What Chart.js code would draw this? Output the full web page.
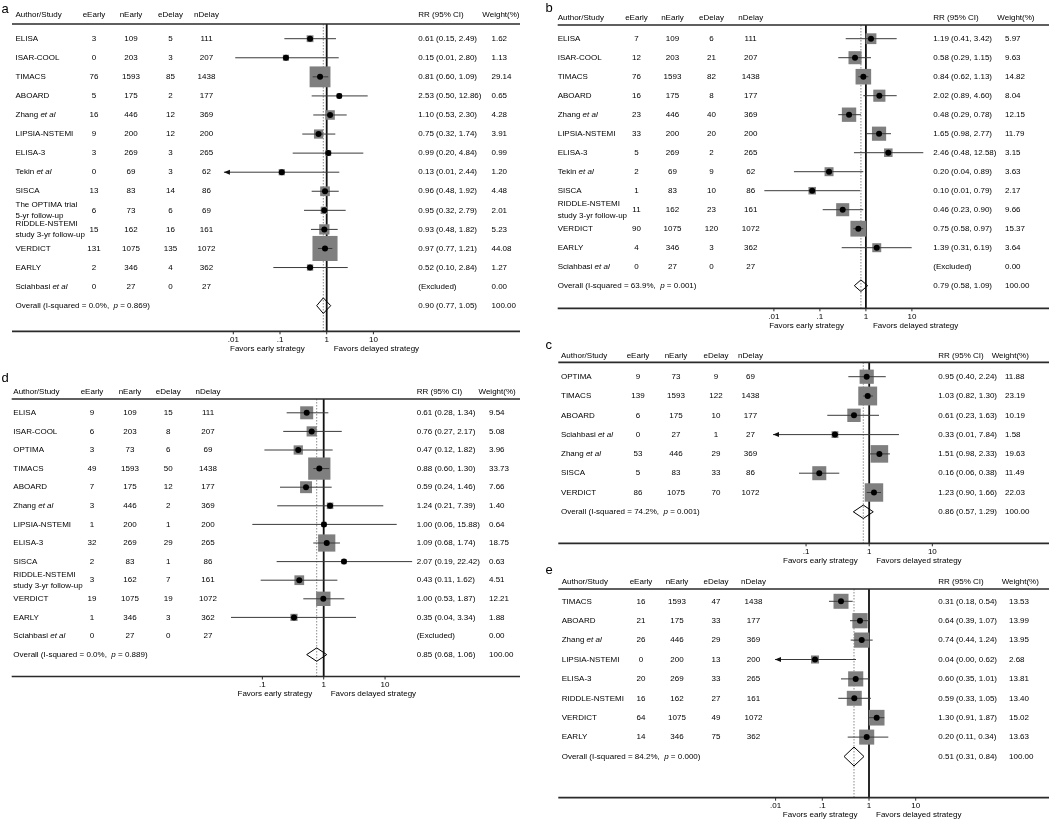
<!DOCTYPE html>
<html>
<head>
<meta charset="utf-8">
<title>Early vs delayed strategy - forest plots</title>
<script src="https://cdn.jsdelivr.net/npm/chart.js@4.4.1/dist/chart.umd.min.js"></script>
<style>
  body { margin: 0; background: #fff; }
  #page { position: relative; width: 1049px; height: 823px; overflow: hidden; }
  .panel { position: absolute; }
</style>
</head>
<body>
<div id="page"></div>
<script>
// ---------- panel a ----------
const aStudy = ['ELISA', 'ISAR-COOL', 'TIMACS', 'ABOARD', 'Zhang _et al_', 'LIPSIA-NSTEMI', 'ELISA-3', 'Tekin _et al_', 'SISCA',
    'The OPTIMA trial\n5-yr follow-up', 'RIDDLE-NSTEMI\nstudy 3-yr follow-up', 'VERDICT', 'EARLY', 'Sciahbasi _et al_'];
const aEEarly = [3, 0, 76, 5, 16, 9, 3, 0, 13, 6, 15, 131, 2, 0];
const aNEarly = [109, 203, 1593, 175, 446, 200, 269, 69, 83, 73, 162, 1075, 346, 27];
const aEDelay = [5, 3, 85, 2, 12, 12, 3, 3, 14, 6, 16, 135, 4, 0];
const aNDelay = [111, 207, 1438, 177, 369, 200, 265, 62, 86, 69, 161, 1072, 362, 27];
const aCI = ['0.61 (0.15, 2.49)', '0.15 (0.01, 2.80)', '0.81 (0.60, 1.09)', '2.53 (0.50, 12.86)', '1.10 (0.53, 2.30)',
    '0.75 (0.32, 1.74)', '0.99 (0.20, 4.84)', '0.13 (0.01, 2.44)', '0.96 (0.48, 1.92)', '0.95 (0.32, 2.79)',
    '0.93 (0.48, 1.82)', '0.97 (0.77, 1.21)', '0.52 (0.10, 2.84)', '(Excluded)'];
const aWeight = [1.62, 1.13, 29.14, 0.65, 4.28, 3.91, 0.99, 1.20, 4.48, 2.01, 5.23, 44.08, 1.27, 0.00];
// where the marks sit on the drawn scale
const aEst = [0.44, 0.134, 0.72, 1.86, 1.18, 0.67, 1.08, 0.109, 0.92, 0.89, 0.89, 0.92, 0.44, null];
const aLow = [0.124, 0.011, 0.50, 0.477, 0.516, 0.30, 0.187, 0.005, 0.477, 0.327, 0.46, 0.65, 0.072, null];
const aHigh = [1.58, 1.81, 1.08, 7.55, 2.68, 1.53, 6.08, 1.86, 1.81, 2.55, 1.72, 1.32, 2.82, null];
const aI2 = '0.0%', aP = '0.869', aPooledCI = '0.90 (0.77, 1.05)';
const aPooled = [0.846, 0.61, 1.22];
const aTicks = [0.01, 0.1, 1, 10];

// ---------- panel b ----------
const bStudy = ['ELISA', 'ISAR-COOL', 'TIMACS', 'ABOARD', 'Zhang _et al_', 'LIPSIA-NSTEMI', 'ELISA-3', 'Tekin _et al_', 'SISCA',
    'RIDDLE-NSTEMI\nstudy 3-yr follow-up', 'VERDICT', 'EARLY', 'Sciahbasi _et al_'];
const bEEarly = [7, 12, 76, 16, 23, 33, 5, 2, 1, 11, 90, 4, 0];
const bNEarly = [109, 203, 1593, 175, 446, 200, 269, 69, 83, 162, 1075, 346, 27];
const bEDelay = [6, 21, 82, 8, 40, 20, 2, 9, 10, 23, 120, 3, 0];
const bNDelay = [111, 207, 1438, 177, 369, 200, 265, 62, 86, 161, 1072, 362, 27];
const bCI = ['1.19 (0.41, 3.42)', '0.58 (0.29, 1.15)', '0.84 (0.62, 1.13)', '2.02 (0.89, 4.60)', '0.48 (0.29, 0.78)',
    '1.65 (0.98, 2.77)', '2.46 (0.48, 12.58)', '0.20 (0.04, 0.89)', '0.10 (0.01, 0.79)', '0.46 (0.23, 0.90)',
    '0.75 (0.58, 0.97)', '1.39 (0.31, 6.19)', '(Excluded)'];
const bWeight = [5.97, 9.63, 14.82, 8.04, 12.15, 11.79, 3.15, 3.63, 2.17, 9.66, 15.37, 3.64, 0.00];
const bEst = [1.29, 0.58, 0.88, 1.96, 0.43, 1.93, 3.07, 0.158, 0.068, 0.313, 0.684, 1.72, null];
const bLow = [0.364, 0.251, 0.684, 0.878, 0.251, 1.04, 0.55, 0.0273, 0.0062, 0.115, 0.532, 0.298, null];
const bHigh = [4.67, 1.29, 1.13, 4.67, 0.78, 3.51, 17.7, 0.878, 0.745, 0.878, 0.878, 9.9, null];
const bI2 = '63.9%', bP = '0.001', bPooledCI = '0.79 (0.58, 1.09)';
const bPooled = [0.78, 0.56, 1.09];
const bTicks = [0.01, 0.1, 1, 10];

// ---------- panel c ----------
const cStudy = ['OPTIMA', 'TIMACS', 'ABOARD', 'Sciahbasi _et al_', 'Zhang _et al_', 'SISCA', 'VERDICT'];
const cEEarly = [9, 139, 6, 0, 53, 5, 86];
const cNEarly = [73, 1593, 175, 27, 446, 83, 1075];
const cEDelay = [9, 122, 10, 1, 29, 33, 70];
const cNDelay = [69, 1438, 177, 27, 369, 86, 1072];
const cCI = ['0.95 (0.40, 2.24)', '1.03 (0.82, 1.30)', '0.61 (0.23, 1.63)', '0.33 (0.01, 7.84)', '1.51 (0.98, 2.33)',
    '0.16 (0.06, 0.38)', '1.23 (0.90, 1.66)'];
const cWeight = [11.88, 23.19, 10.19, 1.58, 19.63, 11.49, 22.03];
const cEst = [0.913, 0.947, 0.574, 0.287, 1.45, 0.162, 1.19];
const cLow = [0.467, 0.806, 0.217, 0.01, 1.0, 0.0773, 0.913];
const cHigh = [1.83, 1.14, 1.43, 2.96, 2.13, 0.336, 1.54];
const cI2 = '74.2%', cP = '0.001', cPooledCI = '0.86 (0.57, 1.29)';
const cPooled = [0.806, 0.56, 1.16];
const cTicks = [0.1, 1, 10];

// ---------- panel d ----------
const dStudy = ['ELISA', 'ISAR-COOL', 'OPTIMA', 'TIMACS', 'ABOARD', 'Zhang _et al_', 'LIPSIA-NSTEMI', 'ELISA-3', 'SISCA',
    'RIDDLE-NSTEMI\nstudy 3-yr follow-up', 'VERDICT', 'EARLY', 'Sciahbasi _et al_'];
const dEEarly = [9, 6, 3, 49, 7, 3, 1, 32, 2, 3, 19, 1, 0];
const dNEarly = [109, 203, 73, 1593, 175, 446, 200, 269, 83, 162, 1075, 346, 27];
const dEDelay = [15, 8, 6, 50, 12, 2, 1, 29, 1, 7, 19, 3, 0];
const dNDelay = [111, 207, 69, 1438, 177, 369, 200, 265, 86, 161, 1072, 362, 27];
const dCI = ['0.61 (0.28, 1.34)', '0.76 (0.27, 2.17)', '0.47 (0.12, 1.82)', '0.88 (0.60, 1.30)', '0.59 (0.24, 1.46)',
    '1.24 (0.21, 7.39)', '1.00 (0.06, 15.88)', '1.09 (0.68, 1.74)', '2.07 (0.19, 22.42)', '0.43 (0.11, 1.62)',
    '1.00 (0.53, 1.87)', '0.35 (0.04, 3.34)', '(Excluded)'];
const dWeight = [9.54, 5.08, 3.96, 33.73, 7.66, 1.40, 0.64, 18.75, 0.63, 4.51, 12.21, 1.88, 0.00];
const dEst = [0.528, 0.637, 0.385, 0.848, 0.515, 1.27, 1.01, 1.12, 2.14, 0.40, 0.985, 0.328, null];
const dLow = [0.249, 0.219, 0.108, 0.676, 0.194, 0.175, 0.0686, 0.676, 0.171, 0.094, 0.465, 0.0308, null];
const dHigh = [1.19, 1.97, 1.40, 1.23, 1.35, 9.36, 15.5, 1.84, 27.8, 1.67, 2.17, 3.36, null];
const dI2 = '0.0%', dP = '0.889', dPooledCI = '0.85 (0.68, 1.06)';
const dPooled = [0.769, 0.528, 1.12];
const dTicks = [0.1, 1, 10];

// ---------- panel e ----------
const eStudy = ['TIMACS', 'ABOARD', 'Zhang _et al_', 'LIPSIA-NSTEMI', 'ELISA-3', 'RIDDLE-NSTEMI', 'VERDICT', 'EARLY'];
const eEEarly = [16, 21, 26, 0, 20, 16, 64, 14];
const eNEarly = [1593, 175, 446, 200, 269, 162, 1075, 346];
const eEDelay = [47, 33, 29, 13, 33, 27, 49, 75];
const eNDelay = [1438, 177, 369, 200, 265, 161, 1072, 362];
const eCI = ['0.31 (0.18, 0.54)', '0.64 (0.39, 1.07)', '0.74 (0.44, 1.24)', '0.04 (0.00, 0.62)', '0.60 (0.35, 1.01)',
    '0.59 (0.33, 1.05)', '1.30 (0.91, 1.87)', '0.20 (0.11, 0.34)'];
const eWeight = [13.53, 13.99, 13.95, 2.68, 13.81, 13.40, 15.02, 13.63];
const eEst = [0.2515, 0.641, 0.698, 0.0698, 0.519, 0.484, 1.46, 0.893];
const eLow = [0.139, 0.392, 0.406, 0.001, 0.2515, 0.220, 1.0, 0.35];
const eHigh = [0.448, 1.05, 1.20, 0.527, 1.015, 1.10, 2.13, 2.59];
const eI2 = '84.2%', eP = '0.000', ePooledCI = '0.51 (0.31, 0.84)';
const ePooled = [0.477, 0.292, 0.781];
const eTicks = [0.01, 0.1, 1, 10];

const POOLED_WEIGHT = 100;

// ---------- layout (page pixels) ----------
const aLayout = { box: [0, 0, 524, 365], letter: [5, 9], headerY: 14.5, lineY: 24, lineX: [12, 520], row0: 38.7, rowH: 19.07, axisY: 331.3,
    cols: { study: 15.5, eEarly: 94, nEarly: 131, eDelay: 170.5, nDelay: 206.5, ci: 418.3, weight: 491.5, weightHead: 482.3 },
    one: 326.7, dec: 46.7, xMin: 0.0063, xMax: 30, favorsGap: 22, diamondHalf: 7.8 };
const bLayout = { box: [524, 0, 525, 345], letter: [549, 8], headerY: 18, lineY: 25, lineX: [557.7, 1049], row0: 38.7, rowH: 19.0, axisY: 308.3,
    cols: { study: 557.7, eEarly: 636.5, nEarly: 672.5, eDelay: 711.5, nDelay: 750.7, ci: 933.3, weight: 1005, weightHead: 997.3 },
    one: 865.9, dec: 46, xMin: 0.006, xMax: 20, favorsGap: 22, diamondHalf: 5.8 };
const cLayout = { box: [524, 330, 525, 240], letter: [549, 345.5], headerY: 355.5, lineY: 362.3, lineX: [558.3, 1049], row0: 376.7, rowH: 19.3, axisY: 543.3,
    cols: { study: 561, eEarly: 638, nEarly: 676, eDelay: 716, nDelay: 750.5, ci: 938.3, weight: 1005, weightHead: 991.7 },
    one: 869.2, dec: 63.15, xMin: 0.03, xMax: 10, favorsGap: 11.5, diamondHalf: 6.7 };
const dLayout = { box: [0, 365, 524, 458], letter: [5, 378], headerY: 391.5, lineY: 399, lineX: [11.7, 520], row0: 412.8, rowH: 18.6, axisY: 676.5,
    cols: { study: 13.3, eEarly: 92, nEarly: 130, eDelay: 168.3, nDelay: 208, ci: 416.7, weight: 489, weightHead: 478.5 },
    one: 323.7, dec: 61.35, xMin: 0.03, xMax: 28, favorsGap: 11.5, diamondHalf: 6.7 };
const eLayout = { box: [524, 563, 525, 260], letter: [549, 570.7], headerY: 582, lineY: 589, lineX: [558.3, 1049], row0: 601.3, rowH: 19.4, axisY: 797.7,
    cols: { study: 561.7, eEarly: 641, nEarly: 677, eDelay: 716, nDelay: 753.5, ci: 938.3, weight: 1009, weightHead: 1001.7 },
    one: 869, dec: 46.7, xMin: 0.0097, xMax: 20, favorsGap: 11.5, diamondHalf: 9.5 };

const panels = [
    { key: 'a', study: aStudy, eEarly: aEEarly, nEarly: aNEarly, eDelay: aEDelay, nDelay: aNDelay, ci: aCI, weight: aWeight,
      est: aEst, low: aLow, high: aHigh, i2: aI2, p: aP, pooledCI: aPooledCI, pooled: aPooled, ticks: aTicks, layout: aLayout },
    { key: 'b', study: bStudy, eEarly: bEEarly, nEarly: bNEarly, eDelay: bEDelay, nDelay: bNDelay, ci: bCI, weight: bWeight,
      est: bEst, low: bLow, high: bHigh, i2: bI2, p: bP, pooledCI: bPooledCI, pooled: bPooled, ticks: bTicks, layout: bLayout },
    { key: 'c', study: cStudy, eEarly: cEEarly, nEarly: cNEarly, eDelay: cEDelay, nDelay: cNDelay, ci: cCI, weight: cWeight,
      est: cEst, low: cLow, high: cHigh, i2: cI2, p: cP, pooledCI: cPooledCI, pooled: cPooled, ticks: cTicks, layout: cLayout },
    { key: 'd', study: dStudy, eEarly: dEEarly, nEarly: dNEarly, eDelay: dEDelay, nDelay: dNDelay, ci: dCI, weight: dWeight,
      est: dEst, low: dLow, high: dHigh, i2: dI2, p: dP, pooledCI: dPooledCI, pooled: dPooled, ticks: dTicks, layout: dLayout },
    { key: 'e', study: eStudy, eEarly: eEEarly, nEarly: eNEarly, eDelay: eEDelay, nDelay: eNDelay, ci: eCI, weight: eWeight,
      est: eEst, low: eLow, high: eHigh, i2: eI2, p: eP, pooledCI: ePooledCI, pooled: ePooled, ticks: eTicks, layout: eLayout },
];

const FONT = '"Liberation Sans", Arial, Helvetica, sans-serif';

// text with _italic_ parts (et al, p)
function richText(ctx, str, x, y, align) {
    const parts = str.split('_');
    const fonts = parts.map((s, k) => (k % 2 ? 'italic ' : '') + '8px ' + FONT);
    let w = 0;
    parts.forEach((s, k) => { ctx.font = fonts[k]; w += ctx.measureText(s).width; });
    let cx = align === 'center' ? x - w / 2 : align === 'right' ? x - w : x;
    ctx.textAlign = 'left';
    parts.forEach((s, k) => {
        ctx.font = fonts[k];
        ctx.fillText(s, cx, y);
        cx += ctx.measureText(s).width;
    });
}

function forestTable(p) {
    const L = p.layout;
    const X = v => v - L.box[0];
    const Y = v => v - L.box[1];
    const n = p.study.length;

    return {
        id: 'forestTable',

        beforeDatasetsDraw(chart) {
            const { ctx, chartArea: { top, bottom }, scales: { x } } = chart;
            ctx.save();
            // dotted line at the pooled estimate
            const xp = x.getPixelForValue(p.pooled[0]);
            ctx.strokeStyle = '#8a8a8a';
            ctx.lineWidth = 1;
            ctx.setLineDash([1.5, 1.5]);
            ctx.beginPath();
            ctx.moveTo(xp, top);
            ctx.lineTo(xp, bottom);
            ctx.stroke();
            // no effect line
            ctx.setLineDash([]);
            const x1 = x.getPixelForValue(1);
            ctx.strokeStyle = '#111';
            ctx.lineWidth = 1.8;
            ctx.beginPath();
            ctx.moveTo(x1, top);
            ctx.lineTo(x1, bottom);
            ctx.stroke();
            ctx.restore();
        },

        afterDatasetsDraw(chart) {
            // arrow head where the lower limit runs off the scale
            const { ctx, chartArea: { left }, scales: { y } } = chart;
            ctx.save();
            ctx.fillStyle = '#111';
            p.low.forEach((lo, i) => {
                if (lo === null || lo >= L.xMin) return;
                const yy = y.getPixelForValue(i);
                ctx.beginPath();
                ctx.moveTo(left, yy);
                ctx.lineTo(left + 6, yy - 2.5);
                ctx.lineTo(left + 6, yy + 2.5);
                ctx.closePath();
                ctx.fill();
            });
            ctx.restore();
        },

        afterDraw(chart) {
            const { ctx, scales: { x, y } } = chart;
            const c = L.cols;
            ctx.save();
            ctx.fillStyle = '#000';
            ctx.textBaseline = 'middle';

            ctx.font = '13px ' + FONT;
            ctx.textAlign = 'left';
            ctx.fillText(p.key, X(L.letter[0]) - 3.5, Y(L.letter[1]));

            const hy = Y(L.headerY);
            richText(ctx, 'Author/Study', X(c.study), hy, 'left');
            richText(ctx, 'eEarly', X(c.eEarly), hy, 'center');
            richText(ctx, 'nEarly', X(c.nEarly), hy, 'center');
            richText(ctx, 'eDelay', X(c.eDelay), hy, 'center');
            richText(ctx, 'nDelay', X(c.nDelay), hy, 'center');
            richText(ctx, 'RR (95% CI)', X(c.ci), hy, 'left');
            richText(ctx, 'Weight(%)', X(c.weightHead), hy, 'left');

            ctx.strokeStyle = '#2a2a2a';
            ctx.lineWidth = 1.7;
            [L.lineY, L.axisY].forEach(ly => {
                ctx.beginPath();
                ctx.moveTo(X(L.lineX[0]), Y(ly));
                ctx.lineTo(X(L.lineX[1]), Y(ly));
                ctx.stroke();
            });

            p.study.forEach((name, i) => {
                const yy = y.getPixelForValue(i);
                const lines = name.split('\n');
                lines.forEach((t, k) => richText(ctx, t, X(c.study), yy + (k - (lines.length - 1) / 2) * 11.5, 'left'));
                richText(ctx, String(p.eEarly[i]), X(c.eEarly), yy, 'center');
                richText(ctx, String(p.nEarly[i]), X(c.nEarly), yy, 'center');
                richText(ctx, String(p.eDelay[i]), X(c.eDelay), yy, 'center');
                richText(ctx, String(p.nDelay[i]), X(c.nDelay), yy, 'center');
                richText(ctx, p.ci[i], X(c.ci), yy, 'left');
                richText(ctx, p.weight[i].toFixed(2), X(c.weight), yy, 'left');
            });

            const yo = y.getPixelForValue(n);
            richText(ctx, `Overall (I-squared = ${p.i2},  _p_ = ${p.p})`, X(c.study), yo, 'left');
            richText(ctx, p.pooledCI, X(c.ci), yo, 'left');
            richText(ctx, POOLED_WEIGHT.toFixed(2), X(c.weight), yo, 'left');

            // log axis ticks
            const ay = Y(L.axisY);
            ctx.lineWidth = 1;
            p.ticks.forEach(t => {
                const tx = x.getPixelForValue(t);
                ctx.beginPath();
                ctx.moveTo(tx, ay);
                ctx.lineTo(tx, ay + 3);
                ctx.stroke();
                richText(ctx, t < 1 ? String(t).replace(/^0/, '') : String(t), tx, ay + 8.5, 'center');
            });
            const x1 = x.getPixelForValue(1);
            richText(ctx, 'Favors early strategy', x1 - L.favorsGap, ay + 17.5, 'right');
            richText(ctx, 'Favors delayed strategy', x1 + 7, ay + 17.5, 'left');
            ctx.restore();
        }
    };
}

function buildConfig(p) {
    const L = p.layout;
    const [bx, by, bw, bh] = L.box;
    const n = p.study.length;
    const plotLeft = L.one + L.dec * Math.log10(L.xMin);
    const plotRight = L.one + L.dec * Math.log10(L.xMax);

    const points = [], sizes = [], ciLine = [];
    p.est.forEach((v, i) => {
        if (v === null) return;
        points.push({ x: v, y: i });
        // box area follows the study weight
        sizes.push((2.5 + 3.4 * Math.sqrt(p.weight[i])) / Math.SQRT2);
        ciLine.push({ x: p.low[i], y: i }, { x: p.high[i], y: i }, { x: null, y: null });
    });
    const [pe, pl, ph] = p.pooled;
    const dh = L.diamondHalf / L.rowH;
    const diamond = [{ x: pl, y: n }, { x: pe, y: n - dh }, { x: ph, y: n }, { x: pe, y: n + dh }, { x: pl, y: n }];

    return {
        type: 'scatter',
        plugins: [forestTable(p)],
        data: {
            datasets: [
                { data: points.map(d => ({ ...d })), pointStyle: 'circle', pointRadius: 3, backgroundColor: '#000', borderWidth: 0, clip: false },
                { data: ciLine, showLine: true, spanGaps: false, pointRadius: 0, borderColor: '#3a3a3a', borderWidth: 1 },
                { data: points.map(d => ({ ...d })), pointStyle: 'rect', pointRadius: sizes, backgroundColor: '#7f7f7f', borderWidth: 0, clip: false },
                { data: diamond, showLine: true, pointRadius: 0, borderColor: '#000', borderWidth: 1, clip: false },
            ]
        },
        options: {
            animation: false,
            responsive: true,
            maintainAspectRatio: false,
            events: [],
            layout: {
                padding: {
                    left: plotLeft - bx,
                    right: bx + bw - plotRight,
                    top: L.lineY - by,
                    bottom: by + bh - L.axisY,
                }
            },
            scales: {
                x: { type: 'logarithmic', min: L.xMin, max: L.xMax, display: false, bounds: 'data' },
                y: { type: 'linear', reverse: true, min: (L.lineY - L.row0) / L.rowH, max: (L.axisY - L.row0) / L.rowH, display: false, bounds: 'data' },
            },
            plugins: {
                legend: { display: false },
                tooltip: { enabled: false },
            },
        },
    };
}

const page = document.getElementById('page');
panels.forEach(p => {
    const [bx, by, bw, bh] = p.layout.box;
    const div = document.createElement('div');
    div.className = 'panel';
    div.style.cssText = `left:${bx}px;top:${by}px;width:${bw}px;height:${bh}px;`;
    const canvas = document.createElement('canvas');
    div.appendChild(canvas);
    page.appendChild(div);
    new Chart(canvas, buildConfig(p));
});
</script>
</body>
</html>
